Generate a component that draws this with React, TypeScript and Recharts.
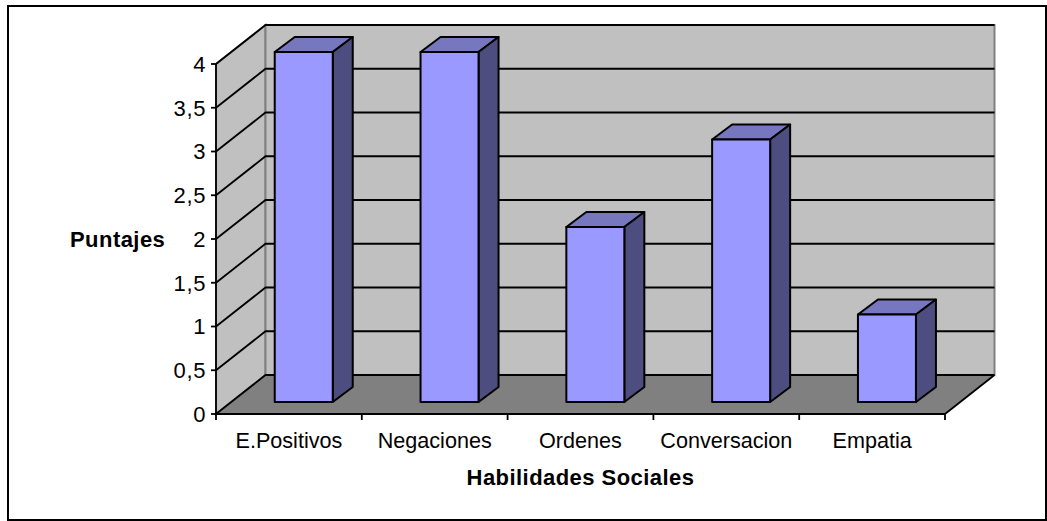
import { BarChart, Bar, XAxis, YAxis, CartesianGrid, ReferenceArea, Label } from 'recharts'

const categories = ['E.Positivos', 'Negaciones', 'Ordenes', 'Conversacion', 'Empatia']
const scores = [4, 4, 2, 3, 1]
const yTicks = [0, 0.5, 1, 1.5, 2, 2.5, 3, 3.5, 4]

const data = categories.map((name, i) => ({ name, score: scores[i] }))

const FONT = '"Liberation Sans", Arial, sans-serif'

// fake 3D: how far the back wall sits from the front of the plot
const WALL_DX = 49.5
const WALL_DY = 39
// bars stand in the middle of the floor and are this deep
const BAR_SHIFT_X = 15
const BAR_SHIFT_Y = 12
const BAR_DX = 20
const BAR_DY = 15

function Walls({ x, y, width, height }: any) {
  const r = x + width
  const b = y + height
  return (
    <g>
      {/* side wall */}
      <polygon
        points={`${x},${y} ${x + WALL_DX},${y - WALL_DY} ${x + WALL_DX},${b - WALL_DY} ${x},${b}`}
        fill="#c0c0c0"
        stroke="#808080"
        strokeWidth={2}
      />
      {/* back wall */}
      <rect
        x={x + WALL_DX}
        y={y - WALL_DY}
        width={width}
        height={height}
        fill="#c0c0c0"
        stroke="#808080"
        strokeWidth={2}
      />
      {/* floor */}
      <polygon
        points={`${x},${b} ${x + WALL_DX},${b - WALL_DY} ${r + WALL_DX},${b - WALL_DY} ${r},${b}`}
        fill="#808080"
      />
      <line x1={r} y1={b} x2={r + WALL_DX} y2={b - WALL_DY} stroke="#000" strokeWidth={1.8} />
    </g>
  )
}

function GridLine({ x1, y1, x2 }: any) {
  return (
    <polyline
      points={`${x1},${y1} ${x1 + WALL_DX},${y1 - WALL_DY} ${x2 + WALL_DX},${y1 - WALL_DY}`}
      fill="none"
      stroke="#000"
      strokeWidth={1.8}
    />
  )
}

function Box3D({ x, y, width, height }: any) {
  const l = x + BAR_SHIFT_X
  const t = y - BAR_SHIFT_Y
  const r = l + width
  const b = t + height
  return (
    <g stroke="#000" strokeWidth={2} strokeLinejoin="round">
      <polygon
        points={`${l},${t} ${l + BAR_DX},${t - BAR_DY} ${r + BAR_DX},${t - BAR_DY} ${r},${t}`}
        fill="#7777c0"
      />
      <polygon
        points={`${r},${t} ${r + BAR_DX},${t - BAR_DY} ${r + BAR_DX},${b - BAR_DY} ${r},${b}`}
        fill="#4d4d80"
      />
      <rect x={l} y={t} width={width} height={height} fill="#9999ff" />
    </g>
  )
}

// tick marks on a category axis go between the categories, the label stays centred
function CategoryTick({ x, y, payload, index, width, visibleTicksCount }: any) {
  const band = width / visibleTicksCount
  return (
    <g>
      <line x1={x + band / 2} y1={y - 8} x2={x + band / 2} y2={y - 2} stroke="#000" strokeWidth={1.8} />
      {index === 0 && (
        <line x1={x - band / 2} y1={y - 8} x2={x - band / 2} y2={y - 2} stroke="#000" strokeWidth={1.8} />
      )}
      <text x={x} y={y + 26} textAnchor="middle" fontFamily={FONT} fontSize={21.6} fill="#000">
        {payload.value}
      </text>
    </g>
  )
}

export default function App() {
  return (
    <div style={{ position: 'absolute', left: 0, top: 0, width: 1047, height: 521, background: '#fff' }}>
      <div
        style={{
          position: 'absolute',
          left: 7,
          top: 5,
          width: 1036,
          height: 512,
          border: '2px solid #000',
        }}
      />
      <BarChart
        width={1047}
        height={521}
        data={data}
        barCategoryGap="30%"
        margin={{ top: 64, right: 102, bottom: 0, left: 0 }}
        style={{ position: 'absolute', left: 0, top: 0 }}
      >
        <ReferenceArea shape={Walls} ifOverflow="visible" zIndex={-200} />
        <CartesianGrid vertical={false} horizontal={GridLine} syncWithTicks zIndex={-100} />
        <XAxis
          dataKey="name"
          height={107}
          tickLine={false}
          tick={CategoryTick}
          interval={0}
          axisLine={{ stroke: '#000', strokeWidth: 1.8 }}
        >
          <Label
            value="Habilidades Sociales"
            position="insideTop"
            offset={55}
            fontFamily={FONT}
            fontSize={22}
            fontWeight="bold"
            letterSpacing={0.45}
            fill="#000"
          />
        </XAxis>
        <YAxis
          width={216}
          domain={[0, 4]}
          ticks={yTicks}
          interval={0}
          tickSize={5}
          tickMargin={5}
          tickFormatter={(v: number) => String(v).replace('.', ',')}
          tick={{ fontFamily: FONT, fontSize: 22, letterSpacing: 0.6, fill: '#000' }}
          tickLine={{ stroke: '#000', strokeWidth: 1.8 }}
          axisLine={{ stroke: '#000', strokeWidth: 1.8 }}
        >
          <Label
            value="Puntajes"
            position="insideLeft"
            offset={70}
            fontFamily={FONT}
            fontSize={22}
            fontWeight="bold"
            letterSpacing={0.45}
            fill="#000"
          />
        </YAxis>
        <Bar dataKey="score" shape={Box3D} isAnimationActive={false} />
      </BarChart>
    </div>
  )
}
